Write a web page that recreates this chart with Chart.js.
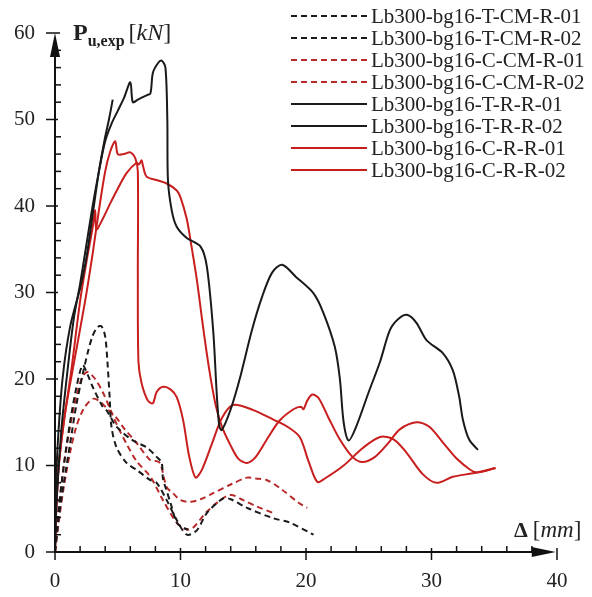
<!DOCTYPE html>
<html>
<head>
<meta charset="utf-8">
<script src="https://cdn.jsdelivr.net/npm/chart.js@4"></script>
<style>
  body { margin: 0; background: #fff; }
  #wrap { width: 592px; height: 597px; }
</style>
</head>
<body>
<div id="wrap"><canvas id="chart" width="592" height="597"></canvas></div>
<script>
// series names (legend order)
const seriesNames = [
  'Lb300-bg16-T-CM-R-01', 'Lb300-bg16-T-CM-R-02',
  'Lb300-bg16-C-CM-R-01', 'Lb300-bg16-C-CM-R-02',
  'Lb300-bg16-T-R-R-01', 'Lb300-bg16-T-R-R-02',
  'Lb300-bg16-C-R-R-01', 'Lb300-bg16-C-R-R-02'
];

// [displacement mm, load kN]
const tCM01 = [[0,0],[0.3,4],[0.7,8],[1.2,12.5],[1.7,17],[2.2,20.5],[2.6,23],[3,25],[3.4,26],[3.7,26.1],[4,24.9],[4.2,21.5],[4.35,18],[4.5,14.5],[4.9,12.1],[5.7,10.3],[6.5,9.5],[7.6,8.3],[8.1,8],[8.9,6],[9.7,3.7],[10.5,2],[11.3,2.5],[12.1,4.5],[13.4,6.2],[14,6.1],[15.3,5.1],[17.4,3.9],[18.7,3.4],[20.6,2]];
const tCM02 = [[0,0],[0.3,5],[0.7,10],[1.2,15],[1.7,19],[2.2,21.6],[2.6,20.5],[3,19.1],[3.8,16.8],[4.1,16.4],[4.9,14.5],[6.2,12.9],[7.3,12.1],[8.1,11],[8.5,10.3],[8.6,8.5],[8.8,7.5],[9.2,5.7],[9.7,3.4],[10.2,2.8],[10.6,2.6]];
const cCM01 = [[0,0],[0.3,5],[0.7,10],[1.2,14.5],[1.7,18],[2.2,20.3],[2.6,20.8],[3.2,20],[3.8,18.5],[4.4,16.5],[5,14.5],[5.7,12.5],[6.5,10.5],[7.6,8.7],[8.6,6],[9.7,3.4],[10.5,2.6],[11,2.8],[12,4.5],[13,5.8],[14,6.6],[15,6],[16,5.3],[17.4,4.5]];
const cCM02 = [[0,0],[0.3,3.5],[0.7,7.5],[1.2,11.5],[1.7,14.5],[2.3,16.6],[3,17.7],[3.5,17.5],[4.2,16.5],[4.9,15.5],[5.5,14.3],[6.5,12.6],[7.6,10.6],[8.1,10.5],[8.4,10.2],[8.9,7.5],[9.4,6.8],[10,6],[10.8,5.8],[11.6,6.1],[12.6,6.8],[14,7.8],[15.3,8.6],[16,8.5],[16.9,8.3],[18,7.3],[19.5,5.6],[20.1,5.1]];
const tRR01 = [[0,0],[0.05,6],[0.2,12],[0.6,20],[1.2,26],[2,30.5],[2.5,34],[3,39],[3.5,44],[4,48],[4.3,50],[4.6,52.3]];
const tRR02 = [[0,0],[0.1,5],[0.5,14],[1,21],[1.5,27],[2,31],[2.5,35.5],[3,40],[3.5,44],[4,47.5],[4.5,49.5],[5,51],[5.5,52.5],[6,54.3],[6.2,52],[6.6,52.3],[7.3,52.8],[7.6,53],[7.8,55.4],[8.2,56.5],[8.5,56.8],[8.8,56],[8.95,50],[9,43],[9.3,39.5],[9.7,37.6],[10.5,36.3],[11.6,35.3],[12.1,33],[12.6,25.7],[12.9,18],[13.1,14.5],[13.3,14.1],[14,16.5],[14.7,19.9],[15.7,25.7],[16.5,29.5],[17.3,32.3],[18.1,33.2],[19.2,31.8],[20.6,29.9],[21.4,27.6],[22.3,23.7],[22.7,20],[23,15],[23.4,12.9],[24,14.5],[25,18.5],[25.9,22],[26.7,25.7],[27.4,27],[28.1,27.4],[28.8,26.5],[29.6,24.5],[30.9,23],[31.7,21],[32.2,18],[32.5,15.3],[33,13],[33.7,11.8]];
const cRR01 = [[0,0],[0.1,5],[0.3,10],[0.8,16],[1.4,21],[2.4,29],[3,34.5],[3.5,39.5],[4,44],[4.4,46.3],[4.8,47.5],[5,46],[5.5,46],[6,46.2],[6.4,45.5],[6.6,44],[6.6,32],[6.65,22],[6.9,19.5],[7.4,17.5],[7.8,17.2],[8.1,18.5],[8.6,19.1],[9.2,18.8],[9.7,17.9],[10.2,15.3],[10.7,11],[11.2,8.6],[11.7,9.5],[12.5,12.5],[13.3,15.5],[14.2,17],[15.8,16.4],[17.4,15.3],[18.5,14.5],[19.5,13.3],[20.2,10.5],[20.9,8.1],[21.5,8.5],[23,10],[24.5,12],[25.9,13.3],[27,13],[28,11.5],[29.3,9],[30.4,8],[31.7,8.7],[33.3,9.1],[35.1,9.7]];
const cRR02 = [[0,0],[0.1,5],[0.3,10],[0.7,15],[1.3,21],[2,29],[2.5,33.5],[3,37.5],[3.2,39.5],[3.3,37.3],[3.8,38.5],[4.4,40.3],[5,42],[5.7,43.8],[6.5,45],[6.7,44.8],[6.9,45.3],[7,44.7],[7.3,43.4],[8.1,43],[8.9,42.6],[9.7,41.8],[10,41],[10.5,38.5],[10.8,36],[11.3,31.5],[11.8,26],[12.3,21],[12.8,17],[13.3,14.5],[14,12.3],[14.6,10.8],[15.3,10.3],[16,11],[17,13.3],[17.9,15.2],[19,16.5],[19.6,16.8],[19.8,16.5],[20.1,17.5],[20.5,18.2],[21,17.8],[21.8,15.5],[22.7,13],[23.7,11],[24.5,10.4],[25.5,11],[26.5,12.5],[27.5,14.2],[28.8,15],[29.8,14.5],[31,12.5],[32,10.8],[33,9.6],[33.6,9.2],[35.1,9.7]];

const seriesData = [tCM01, tCM02, cCM01, cCM02, tRR01, tRR02, cRR01, cRR02];
const seriesColors = ['#1a1a1a', '#1a1a1a', '#b82a2a', '#b82a2a', '#1a1a1a', '#1a1a1a', '#c81e1e', '#c81e1e'];
const seriesDashed = [true, true, true, true, false, false, false, false];

const xTicks = [0, 10, 20, 30, 40];
const yTicks = [0, 10, 20, 30, 40, 50, 60];

const serif = "'Liberation Serif', 'Times New Roman', serif";
const inkColor = '#222';

const datasets = seriesData.map((pts, i) => ({
  label: seriesNames[i],
  data: pts.map(p => ({ x: p[0], y: p[1] })),
  showLine: true,
  borderColor: seriesColors[i],
  borderWidth: 2,
  borderDash: seriesDashed[i] ? [6, 4] : [],
  pointRadius: 0,
  tension: 0.3,
  fill: false
}));

// axes with arrows, crossing ticks, titles and the legend
const decorations = {
  id: 'decorations',
  afterDatasetsDraw(chart) {
    const c = chart.ctx;
    const xs = chart.scales.x, ys = chart.scales.y;
    const x0 = xs.getPixelForValue(0), y0 = ys.getPixelForValue(0);
    c.save();
    c.strokeStyle = '#111';
    c.fillStyle = '#111';
    c.lineWidth = 2;
    c.setLineDash([]);

    // y axis + arrow
    const yTop = ys.getPixelForValue(60);
    c.beginPath(); c.moveTo(x0, y0 + 1); c.lineTo(x0, yTop + 10); c.stroke();
    c.beginPath(); c.moveTo(x0, yTop); c.lineTo(x0 - 5, yTop + 24); c.lineTo(x0 + 5, yTop + 24); c.closePath(); c.fill();
    // x axis + arrow
    const xEnd = xs.getPixelForValue(39.9);
    c.beginPath(); c.moveTo(x0 - 1, y0); c.lineTo(xEnd - 10, y0); c.stroke();
    c.beginPath(); c.moveTo(xEnd, y0); c.lineTo(xEnd - 24, y0 - 5); c.lineTo(xEnd - 24, y0 + 5); c.closePath(); c.fill();

    c.lineWidth = 1.5;
    for (let v = 2; v < 60; v += 2) {
      if (v % 10 === 0) continue;
      const py = ys.getPixelForValue(v);
      c.beginPath(); c.moveTo(x0, py); c.lineTo(x0 + 6, py); c.stroke();
    }
    yTicks.forEach(v => {
      const py = ys.getPixelForValue(v);
      c.beginPath(); c.moveTo(x0 - 9, py); c.lineTo(x0 + (v === 60 ? 5 : 3), py); c.stroke();
    });
    for (let v = 2; v < 40; v += 2) {
      if (v % 10 === 0) continue;
      const px = xs.getPixelForValue(v);
      c.beginPath(); c.moveTo(px, y0); c.lineTo(px, y0 - 6); c.stroke();
    }
    xTicks.forEach(v => {
      const px = xs.getPixelForValue(v);
      c.beginPath(); c.moveTo(px, y0 - 4); c.lineTo(px, y0 + 8); c.stroke();
    });

    // axis titles
    c.fillStyle = inkColor;
    c.textBaseline = 'alphabetic';
    c.textAlign = 'left';
    let tx = 73;
    c.font = 'bold 24px ' + serif; c.fillText('P', tx, 40); tx += c.measureText('P').width;
    c.font = 'bold 16px ' + serif; c.fillText('u,exp', tx, 46); tx += c.measureText('u,exp').width + 4;
    c.font = '24px ' + serif; c.fillText('[', tx, 40); tx += c.measureText('[').width;
    c.font = 'italic 24px ' + serif; c.fillText('kN', tx, 40); tx += c.measureText('kN').width;
    c.font = '24px ' + serif; c.fillText(']', tx, 40);

    tx = 514;
    c.font = 'bold 22px ' + serif; c.fillText('Δ', tx, 537); tx += c.measureText('Δ').width + 5;
    c.font = '23px ' + serif; c.fillText('[', tx, 537); tx += c.measureText('[').width;
    c.font = 'italic 23px ' + serif; c.fillText('mm', tx, 537); tx += c.measureText('mm').width;
    c.font = '23px ' + serif; c.fillText(']', tx, 537);

    // legend
    c.font = '21px ' + serif;
    c.textBaseline = 'middle';
    chart.data.datasets.forEach((ds, i) => {
      const ly = 16 + i * 22;
      c.strokeStyle = ds.borderColor;
      c.lineWidth = 2;
      c.setLineDash(ds.borderDash);
      c.beginPath(); c.moveTo(291, ly); c.lineTo(367, ly); c.stroke();
      c.setLineDash([]);
      c.fillStyle = inkColor;
      c.fillText(ds.label, 371, ly + 1);
    });
    c.restore();
  }
};

new Chart(document.getElementById('chart'), {
  type: 'scatter',
  data: { datasets: datasets },
  options: {
    responsive: false,
    animation: false,
    layout: { padding: { top: 33, right: 35, left: 0, bottom: 0 } },
    plugins: { legend: { display: false }, tooltip: { enabled: false } },
    scales: {
      x: {
        type: 'linear', min: 0, max: 40,
        afterBuildTicks: s => { s.ticks = xTicks.map(v => ({ value: v })); },
        ticks: { font: { family: serif, size: 21 }, color: inkColor, padding: 17, maxRotation: 0 },
        grid: { display: false, drawTicks: false },
        border: { display: false },
        afterFit: s => { s.height = 45; }
      },
      y: {
        type: 'linear', min: 0, max: 60,
        afterBuildTicks: s => { s.ticks = yTicks.map(v => ({ value: v })); },
        ticks: { font: { family: serif, size: 21 }, color: inkColor, padding: 20 },
        grid: { display: false, drawTicks: false },
        border: { display: false },
        afterFit: s => { s.width = 55; }
      }
    }
  },
  plugins: [decorations]
});
</script>
</body>
</html>
